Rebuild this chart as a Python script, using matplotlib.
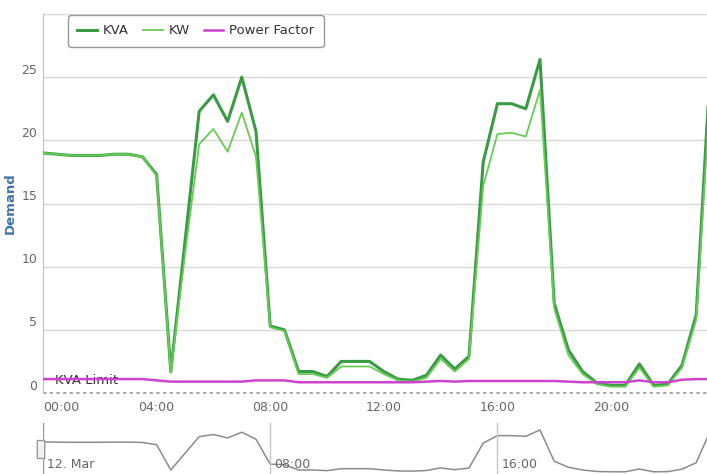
"""
Demand chart for 12 March: KVA, KW and power factor at half-hour
intervals, with the KVA limit line and a small navigator strip below.
"""

import matplotlib
matplotlib.use("Agg")

import pandas as pd
import matplotlib.pyplot as plt
from matplotlib.patches import FancyBboxPatch
from matplotlib.transforms import ScaledTranslation


# ---------------------------------------------------------
# Data
# ---------------------------------------------------------
times = pd.date_range("2014-03-12 00:00", periods=48, freq="30min")

kva = [19.0, 18.9, 18.8, 18.8, 18.8, 18.9, 18.9, 18.7,
       17.3, 1.7, 12.0, 22.3, 23.6, 21.5, 25.0, 20.7,
       5.3, 5.0, 1.7, 1.7, 1.3, 2.5, 2.5, 2.5,
       1.7, 1.1, 1.0, 1.4, 3.0, 1.9, 2.9, 18.3,
       22.9, 22.9, 22.5, 26.4, 7.1, 3.4, 1.7, 0.8,
       0.6, 0.6, 2.3, 0.6, 0.7, 2.2, 6.2, 26.0]

kw = [19.0, 18.9, 18.8, 18.8, 18.8, 18.9, 18.9, 18.7,
      17.2, 1.6, 11.0, 19.7, 20.9, 19.1, 22.2, 18.7,
      5.2, 4.9, 1.5, 1.5, 1.2, 2.1, 2.1, 2.1,
      1.5, 1.0, 0.9, 1.2, 2.7, 1.7, 2.7, 16.4,
      20.5, 20.6, 20.3, 24.0, 6.7, 3.0, 1.5, 0.7,
      0.5, 0.5, 2.0, 0.5, 0.6, 2.0, 5.8, 24.0]

power_factor = [1.1, 1.1, 1.1, 1.1, 1.1, 1.1, 1.1, 1.1,
                1.0, 0.9, 0.9, 0.9, 0.9, 0.9, 0.9, 1.0,
                1.0, 1.0, 0.85, 0.85, 0.85, 0.85, 0.85, 0.85,
                0.85, 0.85, 0.85, 0.9, 0.95, 0.9, 0.95, 0.95,
                0.95, 0.95, 0.95, 0.95, 0.95, 0.9, 0.85, 0.85,
                0.85, 0.85, 1.0, 0.85, 0.85, 1.05, 1.1, 1.1]

kva_limit = 0

y_ticks = [0, 5, 10, 15, 20, 25, 30]
y_tick_labels = ["0", "5", "10", "15", "20", "25", ""]
x_tick_hours = [0, 4, 8, 12, 16, 20]
x_tick_labels = ["00:00", "04:00", "08:00", "12:00", "16:00", "20:00"]
nav_line_hours = [8, 16]
nav_labels = ["12. Mar", "08:00", "16:00"]
nav_label_hours = [0, 8, 16]

KVA_COLOR = "#3a9b45"
KW_COLOR = "#66cc55"
PF_COLOR = "#cc44cc"
TEXT_GRAY = "#666666"

W, H = 707, 474
X_MAX = 23.38  # the view is cut a little before midnight


def main():
    hours = (times - times[0]) / pd.Timedelta(hours=1)

    plt.rcParams["font.family"] = ["DejaVu Sans"]
    fig = plt.figure(figsize=(W / 100, H / 100), dpi=100)

    # -----------------------------------------------------
    # Main chart
    # -----------------------------------------------------
    ax = fig.add_axes([43 / W, 81 / H, 664 / W, 379 / H])
    ax.set_xlim(0, X_MAX)
    ax.set_ylim(0, 30)

    l_kva, = ax.plot(hours, kva, color=KVA_COLOR, lw=2.2, zorder=3)
    l_kw, = ax.plot(hours, kw, color=KW_COLOR, lw=1.3, zorder=4)
    l_pf, = ax.plot(hours, power_factor, color=PF_COLOR, lw=1.8, zorder=5)

    # KVA limit plot line
    ax.axhline(kva_limit, color="#999999", lw=1.2, ls=(0, (2, 2)),
               zorder=2, clip_on=False)
    ax.text(0.42, kva_limit + 0.95, "KVA Limit", fontsize=9.5,
            color="#333333", va="center", ha="left", zorder=4)

    ax.set_yticks(y_ticks)
    ax.set_yticklabels(y_tick_labels)
    ax.yaxis.grid(True, color="#d8d8d8", lw=1)
    ax.set_axisbelow(True)
    ax.tick_params(axis="y", length=0, pad=4, labelsize=9, labelcolor=TEXT_GRAY)
    shift = ScaledTranslation(0, 6 / 72, fig.dpi_scale_trans)
    for lab in ax.get_yticklabels():
        lab.set_transform(lab.get_transform() + shift)

    ax.set_xticks(x_tick_hours)
    ax.set_xticklabels(x_tick_labels)
    ax.tick_params(axis="x", length=0, pad=6, labelsize=9, labelcolor=TEXT_GRAY)
    ax.get_xticklabels()[0].set_horizontalalignment("left")

    for side in ["top", "right", "bottom"]:
        ax.spines[side].set_visible(False)
    ax.spines["left"].set_color("#c0c0c0")

    ax.set_ylabel("Demand", color="#4572A7", fontsize=9.5, fontweight="bold")
    ax.yaxis.set_label_coords(-0.039, 0.5)

    leg = ax.legend([l_kva, l_kw, l_pf], ["KVA", "KW", "Power Factor"],
                    loc="upper left", bbox_to_anchor=(0.0377, 0.997), ncol=3,
                    fontsize=9.5, handlelength=1.5, handletextpad=0.45,
                    columnspacing=1.05, borderpad=0.7, borderaxespad=0,
                    fancybox=True, framealpha=1, edgecolor="#999999")
    for t in leg.get_texts():
        t.set_color("#333333")
    leg.set_zorder(10)

    # -----------------------------------------------------
    # Navigator strip
    # -----------------------------------------------------
    nav = fig.add_axes([43 / W, 0, 664 / W, 51 / H])
    nav.set_xlim(0, X_MAX)
    nav.set_ylim(-0.77, 30.7)
    nav.axis("off")
    nav.plot(hours, kva, color="#8c8c8c", lw=1.1)
    for h in nav_line_hours:
        nav.axvline(h, color="#c8c8c8", lw=1)
    nav.axvline(0, color="#999999", lw=1)
    for h, lab in zip(nav_label_hours, nav_labels):
        nav.text(h + 0.15, 4.8, lab, fontsize=9, color=TEXT_GRAY,
                 va="center", ha="left")

    handle = FancyBboxPatch((38 / W, 16 / H), 6 / W, 17 / H,
                            boxstyle="round,pad=0.001", transform=fig.transFigure,
                            facecolor="#f2f2f2", edgecolor="#999999", lw=1)
    fig.add_artist(handle)

    fig.savefig("out.png", dpi=100)
    plt.close(fig)


if __name__ == "__main__":
    main()
